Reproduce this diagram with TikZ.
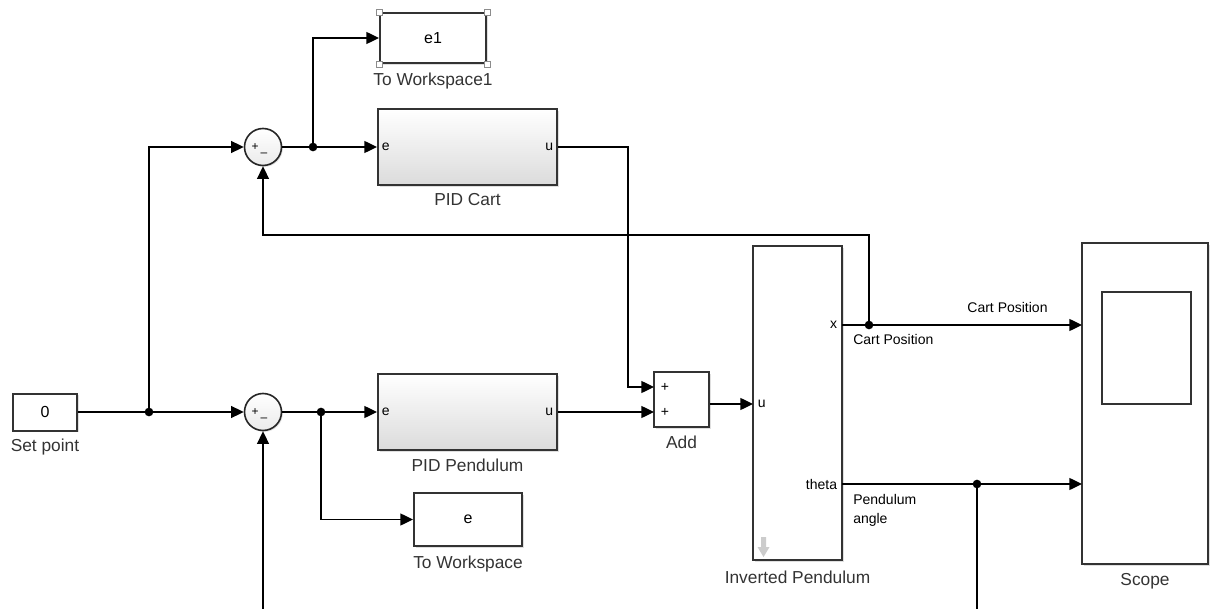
\documentclass[tikz,border=0pt]{standalone}
\usepackage{fontspec}
\setmainfont{Liberation Sans}
\usetikzlibrary{arrows.meta,positioning,shadows}

\tikzset{
  blk/.style={draw=black!80, line width=1.5pt, fill=white, inner sep=0pt,
    font=\fontsize{12}{14}\selectfont,
    drop shadow={opacity=0.25,shadow xshift=1.2pt,shadow yshift=-1.2pt}},
  pidblk/.style={blk, top color=white, bottom color=black!14},
  sumblk/.style={circle, draw=black!85, line width=1.2pt, minimum size=27.75pt,
    inner sep=0pt, top color=white, bottom color=black!8,
    drop shadow={opacity=0.25,shadow xshift=1pt,shadow yshift=-1pt}},
  sgn/.style={font=\fontsize{9}{9}\selectfont, inner sep=0pt},
  lbl/.style={font=\fontsize{13}{15}\selectfont, text=black!80, inner sep=0pt},
  port/.style={font=\fontsize{10.5}{12}\selectfont, inner sep=3.5pt},
  sig/.style={font=\fontsize{10.5}{12}\selectfont, inner sep=0pt},
  wire/.style={line width=1pt},
  junc/.style={circle, fill=black, inner sep=0pt, minimum size=6.5pt},
  handle/.style={draw=black!45, fill=white, line width=0.6pt}
}

\begin{document}
\begin{tikzpicture}[x=0.75pt,y=-0.75pt,>={Triangle[length=9.5pt,width=9pt]}]
  \useasboundingbox (0,0) rectangle (1212,609);

  % Sollwert
  \node[blk, minimum width=48pt, minimum height=27.75pt] (setp) at (45,412) {0};
  \node[lbl, below=5.5pt of setp] (setplbl) {Set point};

  % Summierer
  \node[sumblk] (sum1) at (263,147) {};
  \node[sumblk] (sum2) at (263,412) {};
  \foreach \s in {sum1,sum2} {
    \node[sgn, xshift=-6pt] (\s p) at (\s) {+};
    \node[sgn, xshift=0.8pt, yshift=-5.5pt] (\s m) at (\s) {\textendash};
  }

  % Regler
  \node[pidblk, minimum width=134.25pt, minimum height=57pt] (pidc) at (467.5,147) {};
  \node[port, right] (pidce) at (pidc.west) {e};
  \node[port, left] (pidcu) at (pidc.east) {u};
  \node[lbl, below=5pt of pidc] (pidclbl) {PID Cart};

  \node[pidblk, minimum width=134.25pt, minimum height=57pt] (pidp) at (467.5,412) {};
  \node[port, right] (pidpe) at (pidp.west) {e};
  \node[port, left] (pidpu) at (pidp.east) {u};
  \node[lbl, below=6pt of pidp] (pidplbl) {PID Pendulum};

  % Workspace
  \node[blk, minimum width=79.5pt, minimum height=37.5pt] (twsp1) at (433,38) {e1};
  \foreach \c in {north west,north east,south west,south east}
    \draw[handle] (twsp1.\c) +(-2.2pt,-2.2pt) rectangle +(2.2pt,2.2pt);
  \node[lbl, below=6.5pt of twsp1] (twsp1lbl) {To Workspace1};

  \node[blk, minimum width=81pt, minimum height=39.75pt] (twsp) at (468,519.5) {e};
  \node[lbl, below=6.5pt of twsp] (twsplbl) {To Workspace};

  % Add
  \node[blk, minimum width=41.25pt, minimum height=41.25pt] (add) at (681.5,399.5) {};
  \coordinate (add1) at (654,387);
  \coordinate (add2) at (654,412);
  \node[sgn, font=\fontsize{10.5}{11}\selectfont] (addp1) at (665,387) {+};
  \node[sgn, font=\fontsize{10.5}{11}\selectfont] (addp2) at (665,412) {+};
  \node[lbl, below=6pt of add] (addlbl) {Add};

  % Pendel
  \node[blk, minimum width=66.75pt, minimum height=235.5pt] (pend) at (797.5,403) {};
  \coordinate (pu) at (753,404);
  \coordinate (px) at (842,325);
  \coordinate (pth) at (842,484);
  \node[port, right] (pul) at (pu) {u};
  \node[port, left] (pxl) at (px) {x};
  \node[port, left] (pthl) at (pth) {theta};
  \fill[black!20] (761,537) -- (766,537) -- (766,547) -- (769.5,547)
    -- (763.5,557) -- (757.5,547) -- (761,547) -- cycle;
  \node[lbl, below=7pt of pend] (pendlbl) {Inverted Pendulum};

  % Scope
  \node[blk, minimum width=94.5pt, minimum height=240.75pt] (scope) at (1145,403.5) {};
  \draw[line width=0.8pt, black!80] (1102,292) rectangle (1191,404);
  \coordinate (sc1) at (1082,325);
  \coordinate (sc2) at (1082,484);
  \node[lbl, below=6pt of scope] (scopelbl) {Scope};

  % Verzweigungen
  \node[junc] (j1) at (313,147) {};
  \node[junc] (j2) at (149,412) {};
  \node[junc] (j3) at (321,412) {};
  \node[junc] (j4) at (869,325) {};
  \node[junc] (j5) at (977,484) {};

  % Leitungen
  \draw[wire,->] (setp.east) -- (j2.center) -- (sum2.west);
  \draw[wire,->] (j2.center) |- (sum1.west);
  \draw[wire] (sum1.east) -- (j1.center);
  \draw[wire,->] (j1.center) -- (pidc.west);
  \draw[wire,->] (j1.center) |- (twsp1.west);
  \draw[wire,->] (pidc.east) -- ++(70,0) |- (add1);
  \draw[wire,->] (pidp.east) -- (add2);
  \draw[wire,->] (add.east |- pu) -- (pu);
  \draw[wire] (px) -- (j4.center);
  \draw[wire,->] (j4.center) -- (sc1);
  \draw[wire,->] (j4.center) -- ++(0,-90) -| (sum1.south);
  \draw[wire] (pth) -- (j5.center);
  \draw[wire,->] (j5.center) -- (sc2);
  \draw[wire] (j5.center) -- (977,609);
  \draw[wire,->] (263,609) -- (sum2.south);
  \draw[wire] (sum2.east) -- (j3.center);
  \draw[wire,->] (j3.center) -- (pidp.west);
  \draw[wire,->] (j3.center) |- (twsp.west);

  % Signalnamen
  \node[sig] (cp1) at (1007.5,307) {Cart Position};
  \node[sig, anchor=west] (cp2) at (853,339) {Cart Position};
  \node[sig, anchor=west] (pa1) at (853,499) {Pendulum};
  \node[sig, anchor=west] (pa2) at (853,520) {angle};
\end{tikzpicture}
\end{document}
